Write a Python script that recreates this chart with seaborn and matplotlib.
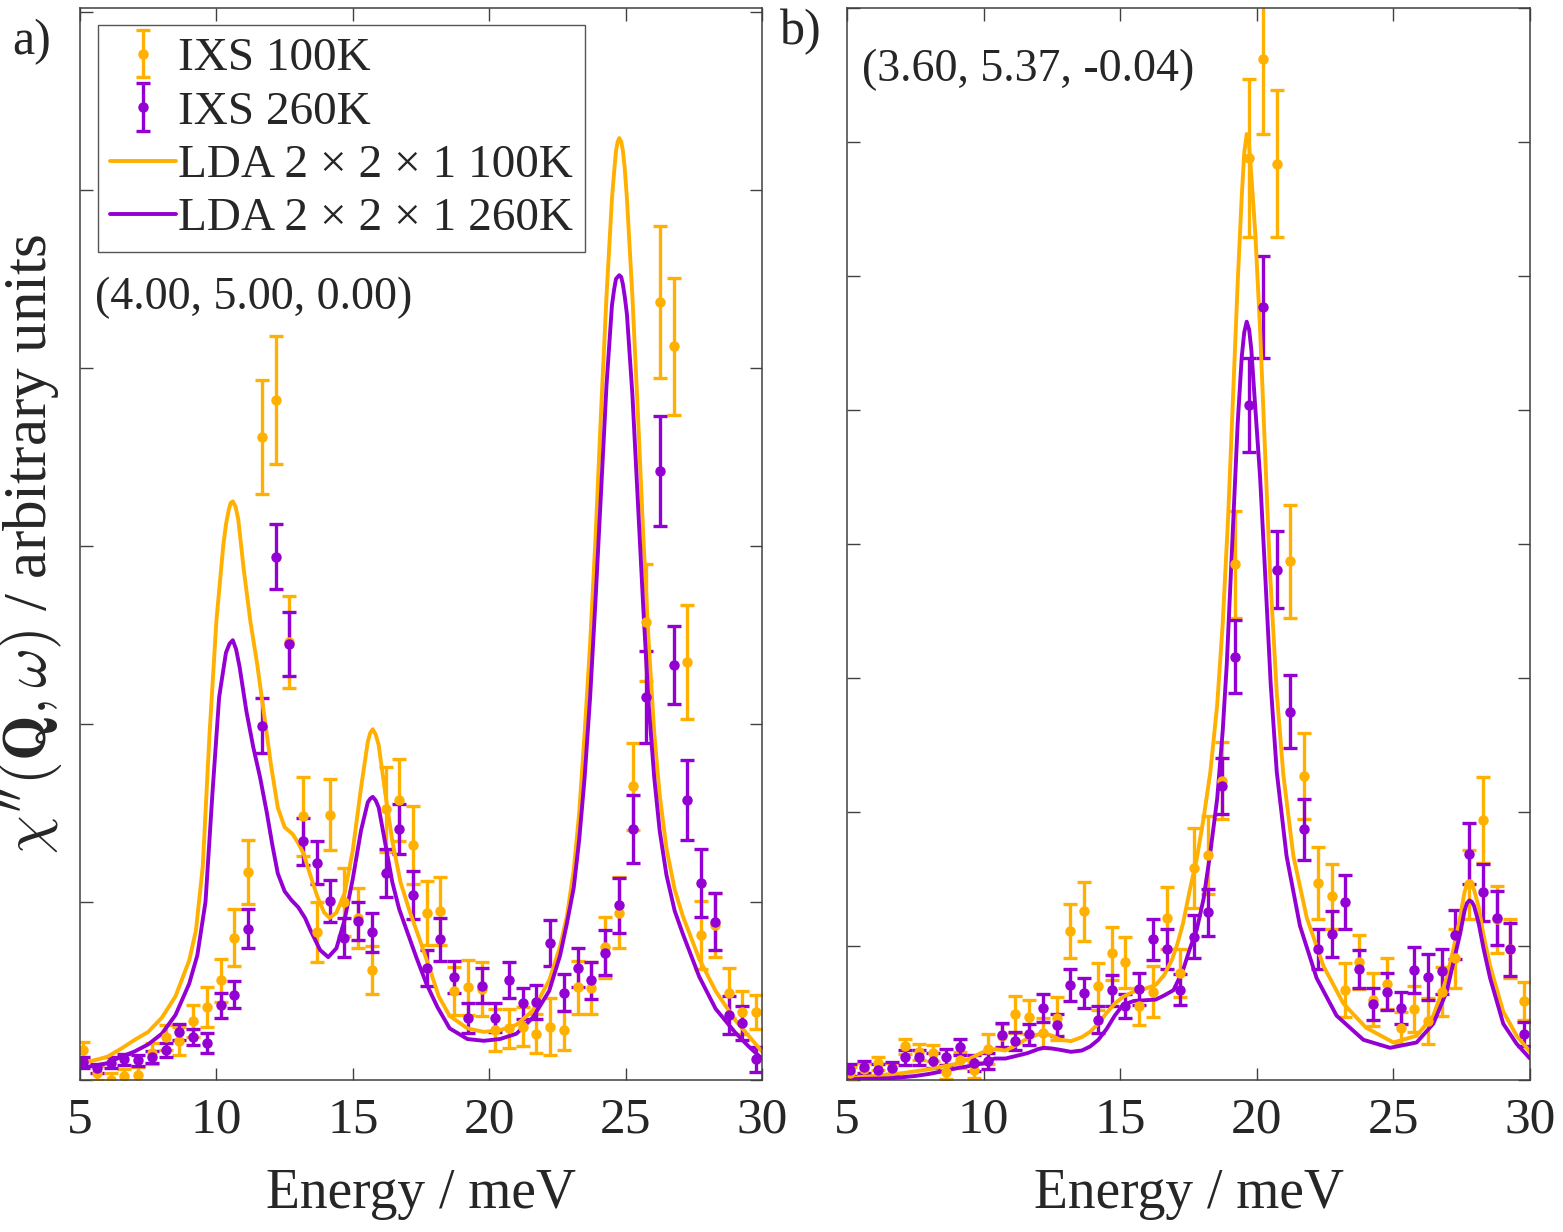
import matplotlib
matplotlib.use("Agg")
import matplotlib.pyplot as plt
import pandas as pd
import seaborn as sns

# energy transfer of the IXS points (meV), same grid for both panels
energy = [5.12, 5.62, 6.13, 6.63, 7.13, 7.64, 8.14, 8.64, 9.15, 9.65,
          10.16, 10.66, 11.16, 11.67, 12.17, 12.67, 13.18, 13.68, 14.18, 14.69,
          15.19, 15.69, 16.20, 16.70, 17.20, 17.71, 18.21, 18.71, 19.22, 19.72,
          20.22, 20.73, 21.23, 21.73, 22.24, 22.74, 23.24, 23.75, 24.25, 24.75,
          25.26, 25.76, 26.26, 26.77, 27.27, 27.77, 28.28, 28.78, 29.28, 29.79]

# panel a) (4.00, 5.00, 0.00)
a_ixs_100 = [0.17, 0.04, 0.0, 0.02, 0.03, 0.15, 0.24, 0.22, 0.33, 0.41,
             0.56, 0.80, 1.17, 3.61, 3.82, 2.46, 1.48, 0.83, 1.49, 1.00,
             0.91, 0.62, 1.52, 1.57, 1.32, 0.94, 0.95, 0.50, 0.52, 0.51,
             0.28, 0.29, 0.30, 0.26, 0.30, 0.28, 0.52, 0.515, 0.745, 0.94,
             1.65, 2.57, 4.37, 4.12, 2.35, 0.815, 0.87, 0.49, 0.38, 0.38]
a_err_100 = [0.045, 0.04, 0.04, 0.04, 0.045, 0.06, 0.07, 0.08, 0.09, 0.11,
             0.12, 0.16, 0.18, 0.32, 0.36, 0.26, 0.22, 0.17, 0.20, 0.19,
             0.17, 0.135, 0.24, 0.23, 0.22, 0.18, 0.19, 0.135, 0.155, 0.15,
             0.12, 0.11, 0.11, 0.11, 0.16, 0.11, 0.15, 0.145, 0.17, 0.20,
             0.245, 0.33, 0.425, 0.385, 0.32, 0.19, 0.18, 0.14, 0.12, 0.095]
a_ixs_260 = [0.10, 0.066, 0.097, 0.116, 0.11, 0.13, 0.17, 0.27, 0.24, 0.21,
             0.42, 0.48, 0.85, 1.99, 2.94, 2.45, 1.34, 1.22, 1.005, 0.80,
             0.895, 0.83, 1.16, 1.41, 1.04, 0.63, 0.79, 0.58, 0.35, 0.53,
             0.35, 0.56, 0.43, 0.44, 0.77, 0.49, 0.63, 0.56, 0.715, 0.98,
             1.41, 2.15, 3.42, 2.33, 1.57, 1.105, 0.89, 0.365, 0.32, 0.115]
a_err_260 = [0.03, 0.026, 0.03, 0.03, 0.03, 0.035, 0.04, 0.045, 0.045, 0.056,
             0.07, 0.075, 0.11, 0.155, 0.185, 0.18, 0.13, 0.12, 0.117, 0.108,
             0.107, 0.11, 0.135, 0.14, 0.135, 0.10, 0.12, 0.09, 0.085, 0.10,
             0.08, 0.10, 0.085, 0.095, 0.13, 0.105, 0.11, 0.105, 0.125, 0.155,
             0.19, 0.26, 0.31, 0.22, 0.225, 0.19, 0.16, 0.105, 0.095, 0.07]

a_lda_100_e = [5.0, 5.5, 6.0, 6.5, 7.0, 7.5, 8.0, 8.5, 9.0, 9.25, 9.5, 9.75, 10.0,
               10.25, 10.35, 10.45, 10.52, 10.6, 10.7, 10.8, 11.0, 11.25, 11.5,
               11.75, 12.0, 12.25, 12.5, 12.8, 13.0, 13.2, 13.4, 13.7, 13.95, 14.15,
               14.4, 14.7, 15.0, 15.3, 15.55, 15.64, 15.73, 15.84, 15.95, 16.2,
               16.45, 16.75, 17.1, 17.45, 17.85, 18.15, 18.55, 19.2, 19.8, 20.4,
               21.0, 21.6, 22.2, 22.6, 22.85, 23.1, 23.3, 23.5, 23.7, 23.9, 24.1,
               24.3, 24.5, 24.58, 24.65, 24.71, 24.77, 24.84, 24.9, 24.97, 25.05,
               25.25, 25.45, 25.65, 25.85, 26.05, 26.25, 26.5, 26.8, 27.1, 27.7,
               28.3, 29.0, 29.5, 30.0]
a_lda_100 = [0.09, 0.11, 0.13, 0.175, 0.225, 0.27, 0.35, 0.47, 0.67, 0.84, 1.2, 1.95,
             2.58, 3.0, 3.12, 3.2, 3.24, 3.25, 3.22, 3.15, 2.87, 2.57, 2.33, 2.05,
             1.77, 1.53, 1.42, 1.38, 1.33, 1.27, 1.17, 1.03, 0.94, 0.91, 0.94, 1.05,
             1.29, 1.64, 1.90, 1.95, 1.97, 1.94, 1.88, 1.60, 1.34, 1.11, 0.94, 0.79,
             0.61, 0.47, 0.36, 0.29, 0.27, 0.28, 0.31, 0.39, 0.56, 0.75, 0.92, 1.18,
             1.5, 1.95, 2.45, 3.05, 3.75, 4.4, 4.95, 5.1, 5.22, 5.27, 5.29, 5.27,
             5.22, 5.12, 4.95, 4.4, 3.75, 3.05, 2.45, 1.95, 1.6, 1.3, 1.07, 0.92,
             0.68, 0.5, 0.34, 0.25, 0.16]
a_lda_260_e = [5.0, 5.5, 6.0, 6.5, 7.0, 7.5, 8.0, 8.5, 9.0, 9.3, 9.6, 9.85, 10.1,
               10.35, 10.48, 10.6, 10.72, 10.85, 11.1, 11.35, 11.6, 11.85, 12.05,
               12.25, 12.5, 12.75, 13.0, 13.25, 13.45, 13.8, 14.1, 14.4, 14.7, 15.0,
               15.3, 15.55, 15.64, 15.73, 15.84, 15.95, 16.2, 16.45, 16.7, 17.0,
               17.35, 17.7, 18.1, 18.55, 19.2, 19.8, 20.4, 21.0, 21.6, 22.2, 22.6,
               22.85, 23.1, 23.3, 23.5, 23.7, 23.9, 24.1, 24.3, 24.5, 24.58, 24.65,
               24.71, 24.77, 24.84, 24.9, 24.97, 25.05, 25.25, 25.45, 25.65, 25.85,
               26.05, 26.25, 26.5, 26.8, 27.1, 27.7, 28.3, 29.0, 29.5, 30.0]
a_lda_260 = [0.066, 0.08, 0.094, 0.13, 0.16, 0.20, 0.26, 0.365, 0.54, 0.70, 1.0, 1.6,
             2.15, 2.4, 2.45, 2.47, 2.42, 2.32, 2.07, 1.87, 1.70, 1.50, 1.32, 1.16,
             1.06, 1.01, 0.97, 0.91, 0.84, 0.73, 0.69, 0.74, 0.90, 1.13, 1.40, 1.56,
             1.58, 1.59, 1.57, 1.53, 1.32, 1.11, 0.96, 0.83, 0.68, 0.54, 0.41, 0.29,
             0.23, 0.22, 0.23, 0.26, 0.35, 0.50, 0.70, 0.88, 1.08, 1.35, 1.7, 2.15,
             2.7, 3.3, 3.9, 4.35, 4.44, 4.5, 4.51, 4.52, 4.51, 4.47, 4.4, 4.3, 3.85,
             3.25, 2.65, 2.1, 1.7, 1.4, 1.15, 0.95, 0.82, 0.58, 0.40, 0.27, 0.19,
             0.12]

# panel b) (3.60, 5.37, -0.04)
b_ixs_100 = [0.05, 0.08, 0.125, 0.08, 0.25, 0.21, 0.20, 0.06, 0.15, 0.075,
             0.23, 0.33, 0.49, 0.47, 0.35, 0.46, 1.11, 1.26, 0.70, 0.945,
             0.88, 0.55, 0.66, 1.21, 0.80, 1.58, 1.68, 2.235, 3.85, 6.88,
             7.62, 6.84, 3.87, 2.27, 1.47, 1.37, 0.67, 0.88, 0.60, 0.72,
             0.39, 0.53, 0.44, 0.66, 0.91, 1.46, 1.94, 1.20, 0.98, 0.59]
b_err_100 = [0.045, 0.045, 0.05, 0.05, 0.055, 0.06, 0.06, 0.055, 0.06, 0.06,
             0.11, 0.09, 0.137, 0.13, 0.11, 0.16, 0.20, 0.22, 0.175, 0.20,
             0.19, 0.14, 0.19, 0.23, 0.18, 0.30, 0.29, 0.29, 0.40, 0.59,
             0.56, 0.55, 0.42, 0.32, 0.27, 0.24, 0.20, 0.20, 0.20, 0.19,
             0.12, 0.17, 0.17, 0.18, 0.22, 0.26, 0.32, 0.25, 0.22, 0.14]
b_ixs_260 = [0.075, 0.10, 0.075, 0.087, 0.17, 0.17, 0.145, 0.17, 0.245, 0.125,
             0.145, 0.335, 0.29, 0.34, 0.535, 0.41, 0.71, 0.65, 0.45, 0.67,
             0.55, 0.68, 1.05, 0.98, 0.675, 1.07, 1.25, 2.195, 3.16, 5.04,
             5.77, 3.81, 2.75, 1.87, 0.975, 1.09, 1.33, 0.83, 0.57, 0.66,
             0.54, 0.82, 0.77, 0.81, 1.085, 1.69, 1.40, 1.21, 0.975, 0.34]
b_err_260 = [0.045, 0.045, 0.045, 0.045, 0.056, 0.056, 0.055, 0.06, 0.06, 0.06,
             0.06, 0.087, 0.07, 0.08, 0.105, 0.08, 0.117, 0.11, 0.10, 0.115,
             0.09, 0.12, 0.155, 0.15, 0.115, 0.16, 0.175, 0.21, 0.27, 0.35,
             0.38, 0.29, 0.27, 0.225, 0.15, 0.17, 0.20, 0.14, 0.12, 0.14,
             0.12, 0.17, 0.17, 0.17, 0.18, 0.23, 0.21, 0.20, 0.20, 0.09]

b_lda_100_e = [5.0, 5.5, 6.0, 6.5, 7.0, 7.5, 8.0, 8.5, 9.0, 9.5, 10.0, 10.4, 10.8,
               11.2, 11.6, 12.0, 12.2, 12.5, 12.8, 13.2, 13.6, 13.9, 14.2, 14.5,
               14.8, 15.1, 15.5, 15.9, 16.3, 16.6, 16.9, 17.1, 17.3, 17.55, 17.8,
               18.05, 18.3, 18.55, 18.75, 18.95, 19.15, 19.3, 19.45, 19.54, 19.63,
               19.72, 19.8, 19.95, 20.12, 20.3, 20.48, 20.73, 20.97, 21.34, 21.83,
               22.44, 23.17, 24.0, 25.0, 25.85, 26.46, 26.95, 27.2, 27.44, 27.6,
               27.69, 27.78, 27.87, 27.95, 28.11, 28.3, 28.54, 29.02, 29.51, 30.0]
b_lda_100 = [0.01, 0.02, 0.03, 0.04, 0.05, 0.065, 0.08, 0.10, 0.12, 0.16, 0.21, 0.23,
             0.22, 0.26, 0.31, 0.34, 0.35, 0.33, 0.30, 0.29, 0.32, 0.36, 0.42, 0.50,
             0.57, 0.62, 0.66, 0.68, 0.71, 0.78, 0.90, 1.02, 1.17, 1.42, 1.65, 1.95,
             2.3, 2.8, 3.4, 4.2, 5.2, 5.95, 6.6, 6.92, 7.06, 6.97, 6.75, 6.3, 5.6,
             4.7, 3.8, 2.89, 2.28, 1.67, 1.21, 0.85, 0.57, 0.39, 0.28, 0.33, 0.48,
             0.76, 0.98, 1.21, 1.4, 1.46, 1.48, 1.46, 1.42, 1.30, 1.08, 0.85, 0.51,
             0.33, 0.21]
b_lda_260_e = [5.0, 5.5, 6.0, 6.5, 7.0, 7.5, 8.0, 8.5, 9.0, 9.5, 10.0, 10.4, 10.8,
               11.2, 11.6, 12.0, 12.2, 12.5, 12.8, 13.2, 13.6, 13.9, 14.2, 14.5,
               14.8, 15.1, 15.5, 15.9, 16.3, 16.6, 16.95, 17.3, 17.55, 17.8, 18.05,
               18.3, 18.55, 18.75, 18.9, 19.1, 19.3, 19.45, 19.54, 19.63, 19.72,
               19.8, 19.95, 20.12, 20.3, 20.51, 20.73, 21.09, 21.58, 22.19, 22.92,
               23.9, 24.88, 25.85, 26.46, 26.95, 27.2, 27.44, 27.6, 27.69, 27.78,
               27.87, 27.95, 28.11, 28.3, 28.54, 29.02, 29.51, 30.0]
b_lda_260 = [0.005, 0.008, 0.01, 0.012, 0.02, 0.03, 0.045, 0.065, 0.087, 0.105,
             0.125, 0.16, 0.16, 0.18, 0.20, 0.23, 0.24, 0.235, 0.225, 0.21, 0.22,
             0.25, 0.30, 0.38, 0.48, 0.56, 0.59, 0.595, 0.60, 0.63, 0.67, 0.82, 0.98,
             1.12, 1.35, 1.7, 2.1, 2.6, 3.1, 4.0, 4.9, 5.4, 5.58, 5.66, 5.6, 5.45,
             5.0, 4.5, 3.8, 2.95, 2.3, 1.67, 1.15, 0.76, 0.48, 0.30, 0.24, 0.28,
             0.42, 0.66, 0.88, 1.09, 1.26, 1.32, 1.34, 1.33, 1.3, 1.18, 0.98, 0.76,
             0.42, 0.27, 0.16]

c100 = "#FFB000"
c260 = "#9400D3"

sns.set_style("ticks")
plt.rcParams["font.family"] = ["Liberation Serif", "DejaVu Serif"]
plt.rcParams["mathtext.fontset"] = "cm"
plt.rcParams["axes.linewidth"] = 1.1
plt.rcParams["axes.edgecolor"] = "#404040"

fig = plt.figure(figsize=(15.63, 12.32), dpi=100)
ax_a = fig.add_axes([0.0512, 0.1234, 0.4363, 0.870])
ax_b = fig.add_axes([0.5419, 0.1234, 0.4370, 0.870])

panels = [
    (ax_a, a_ixs_100, a_err_100, a_ixs_260, a_err_260,
     a_lda_100_e, a_lda_100, a_lda_260_e, a_lda_260, 6.02),
    (ax_b, b_ixs_100, b_err_100, b_ixs_260, b_err_260,
     b_lda_100_e, b_lda_100, b_lda_260_e, b_lda_260, 8.0),
]

handles = []
for ax, y100, e100, y260, e260, le100, l100, le260, l260, ytop in panels:
    eb_style = dict(fmt="o", ms=6.5, elinewidth=2.4, capsize=5, capthick=2.4)
    h1 = ax.errorbar(energy, y100, yerr=e100, color=c100, **eb_style)
    h2 = ax.errorbar(energy, y260, yerr=e260, color=c260, **eb_style)

    df100 = pd.DataFrame({"E": le100, "chi": l100})
    df260 = pd.DataFrame({"E": le260, "chi": l260})
    sns.lineplot(data=df100, x="E", y="chi", ax=ax, color=c100, lw=2.8, legend=False)
    sns.lineplot(data=df260, x="E", y="chi", ax=ax, color=c260, lw=2.8, legend=False)

    ax.set_xlim(5, 30)
    ax.set_ylim(0, ytop)
    ax.set_xticks([5, 10, 15, 20, 25, 30])
    ax.set_yticks(range(0, int(ytop) + 1))
    ax.set_yticklabels([])
    ax.tick_params(direction="in", top=True, right=True, length=9, width=1.0,
                   color="#404040", labelsize=37, pad=12)
    ax.set_xlabel("Energy / meV", fontsize=40, labelpad=18)
    ax.set_ylabel("")
    if not handles:
        handles = [h1, h2, ax.lines[-2], ax.lines[-1]]

ax_a.set_ylabel(r"$\chi^{\prime\prime}(\mathbf{Q},\omega)$ / arbitrary units", fontsize=44)
ax_a.yaxis.set_label_coords(-0.022, 0.5)

leg = ax_a.legend(handles, ["IXS 100K", "IXS 260K",
                            "LDA 2 × 2 × 1 100K", "LDA 2 × 2 × 1 260K"],
                  loc="upper left", bbox_to_anchor=(0.026, 0.984), borderaxespad=0,
                  fontsize=34, handlelength=1.4, handletextpad=0.05,
                  labelspacing=0.22, borderpad=0.25, fancybox=False, framealpha=1)
leg.get_frame().set_edgecolor("#555555")
leg.get_frame().set_linewidth(1.0)

ax_a.text(0.022, 0.73, "(4.00, 5.00, 0.00)", transform=ax_a.transAxes,
          fontsize=33, va="center", ha="left")
ax_b.text(0.022, 0.942, "(3.60, 5.37, -0.04)", transform=ax_b.transAxes,
          fontsize=33, va="center", ha="left")

fig.text(0.008, 0.966, "a)", fontsize=36, va="center", ha="left")
fig.text(0.499, 0.974, "b)", fontsize=36, va="center", ha="left")

fig.savefig("out.png", dpi=100)
